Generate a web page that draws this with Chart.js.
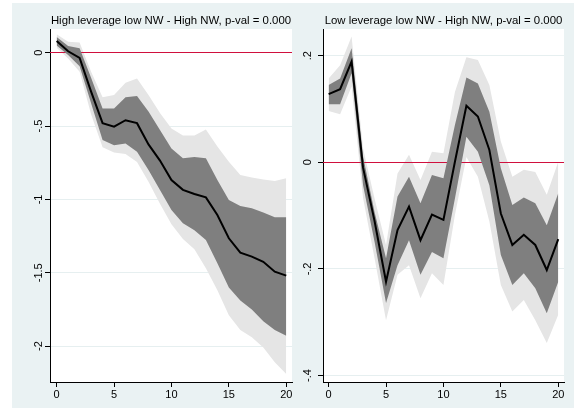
<!DOCTYPE html>
<html>
<head>
<meta charset="utf-8">
<script src="https://cdn.jsdelivr.net/npm/chart.js@4.4.1/dist/chart.umd.min.js"></script>
<style>
html, body { margin: 0; padding: 0; background: #fff; }
#bg { position: absolute; left: 12px; top: 3px; width: 562px; height: 405px; background: #eaf2f3; }
#wrapL { position: absolute; left: 0; top: 0; }
#wrapR { position: absolute; left: 293px; top: 0; }
canvas { display: block; }
</style>
</head>
<body>
<div id="bg"></div>
<div id="wrapL"><canvas id="leftChart" width="300" height="408"></canvas></div>
<div id="wrapR"><canvas id="rightChart" width="281" height="408"></canvas></div>
<script>
/* =====================
   データ
===================== */
const horizons = [0, 1, 2, 3, 4, 5, 6, 7, 8, 9, 10, 11, 12, 13, 14, 15, 16, 17, 18, 19, 20];
const xTicks = [0, 5, 10, 15, 20];

// 左: High leverage low NW - High NW
const leftTitle = 'High leverage low NW - High NW, p-val = 0.000';
const leftMain    = [0.08, 0.01, -0.035, -0.265, -0.48, -0.504, -0.46, -0.48, -0.625, -0.735, -0.868, -0.935, -0.963, -0.986, -1.106, -1.265, -1.363, -1.39, -1.425, -1.493, -1.52];
const leftInnerHi = [0.108, 0.046, 0.03, -0.17, -0.38, -0.38, -0.304, -0.295, -0.40, -0.527, -0.652, -0.72, -0.71, -0.72, -0.868, -1.004, -1.045, -1.06, -1.09, -1.122, -1.122];
const leftInnerLo = [0.05, -0.016, -0.092, -0.345, -0.595, -0.63, -0.618, -0.675, -0.80, -0.936, -1.072, -1.163, -1.21, -1.276, -1.436, -1.6, -1.69, -1.75, -1.83, -1.89, -1.93];
const leftOuterHi = [0.126, 0.075, 0.07, -0.13, -0.304, -0.288, -0.204, -0.175, -0.288, -0.41, -0.516, -0.565, -0.565, -0.523, -0.64, -0.743, -0.834, -0.85, -0.864, -0.875, -0.856];
const leftOuterLo = [0.035, -0.04, -0.13, -0.42, -0.645, -0.68, -0.69, -0.745, -0.88, -1.03, -1.17, -1.27, -1.34, -1.47, -1.62, -1.79, -1.89, -1.94, -2.01, -2.11, -2.19];
const leftYTicks  = [0, -0.5, -1, -1.5, -2];
const leftYLabels = ['0', '-.5', '-1', '-1.5', '-2'];

// 右: Low leverage low NW - High NW
const rightTitle = 'Low leverage low NW - High NW, p-val = 0.000';
const rightMain    = [0.128, 0.137, 0.189, -0.01, -0.11, -0.224, -0.127, -0.083, -0.146, -0.098, -0.108, 0.001, 0.106, 0.086, 0.023, -0.096, -0.155, -0.136, -0.155, -0.202, -0.144];
const rightInnerHi = [0.145, 0.157, 0.214, 0.011, -0.093, -0.18, -0.064, -0.027, -0.077, -0.024, -0.03, 0.07, 0.159, 0.148, 0.095, -0.011, -0.08, -0.066, -0.077, -0.118, -0.058];
const rightInnerLo = [0.109, 0.109, 0.167, -0.043, -0.149, -0.264, -0.193, -0.146, -0.211, -0.168, -0.18, -0.068, 0.048, 0.02, -0.043, -0.174, -0.23, -0.208, -0.236, -0.283, -0.224];
const rightOuterHi = [0.157, 0.182, 0.236, 0.026, -0.068, -0.155, -0.021, 0.014, -0.033, 0.02, 0.017, 0.132, 0.197, 0.192, 0.145, 0.039, -0.027, -0.014, -0.018, -0.061, 0.001];
const rightOuterLo = [0.096, 0.09, 0.142, -0.067, -0.18, -0.296, -0.211, -0.193, -0.255, -0.208, -0.23, -0.099, 0.01, -0.027, -0.111, -0.23, -0.28, -0.258, -0.296, -0.339, -0.286];
const rightYTicks  = [0.2, 0, -0.2, -0.4];
const rightYLabels = ['.2', '0', '-.2', '-.4'];

const FONT = "'Liberation Sans', Arial, sans-serif";

function toPoints(arr) {
    return horizons.map((h, i) => ({ x: h, y: arr[i] }));
}

/* =====================
   プラグイン: 白いプロット領域, 0 の赤線, 縦書き y ラベル, タイトル
===================== */
const stataPlugin = {
    id: 'stataLook',
    beforeDraw(chart) {
        const a = chart.chartArea;
        const ctx = chart.ctx;
        ctx.save();
        ctx.fillStyle = '#ffffff';
        ctx.fillRect(a.left, a.top, a.right - a.left, a.bottom - a.top);
        ctx.restore();
    },
    afterDatasetDraw(chart, args) {
        // 外側の帯の後, 内側の帯の前に 0 線を描く
        if (args.index !== 1) return;
        const a = chart.chartArea;
        const y = Math.round(chart.scales.y.getPixelForValue(0) - 0.5) + 0.5;
        const ctx = chart.ctx;
        ctx.save();
        ctx.strokeStyle = '#d0103e';
        ctx.lineWidth = 1.2;
        ctx.beginPath();
        ctx.moveTo(a.left, y);
        ctx.lineTo(a.right, y);
        ctx.stroke();
        ctx.restore();
    },
    afterDraw(chart, args, opts) {
        const ctx = chart.ctx;
        const a = chart.chartArea;
        const ys = chart.scales.y;
        ctx.save();
        ctx.fillStyle = '#000';
        ctx.font = '11px ' + FONT;
        ctx.textAlign = 'center';
        ctx.textBaseline = 'middle';
        opts.yTicks.forEach((v, i) => {
            const py = ys.getPixelForValue(v);
            ctx.save();
            ctx.translate(opts.labelX, py);
            ctx.rotate(-Math.PI / 2);
            ctx.fillText(opts.yLabels[i], 0, 0);
            ctx.restore();
        });
        ctx.font = '11.4px ' + FONT;
        ctx.fillText(opts.title, (a.left + a.right) / 2, 20.5);
        ctx.restore();
    }
};

function makePanel(canvasId, cfg) {
    const el = document.getElementById(canvasId);
    if (!el) return null;
    const datasets = [
        { data: toPoints(cfg.outerHi), fill: '+1', backgroundColor: '#e5e5e5', borderColor: 'transparent', borderWidth: 0, order: 5 },
        { data: toPoints(cfg.outerLo), fill: false, borderColor: 'transparent', borderWidth: 0, order: 4 },
        { data: toPoints(cfg.innerHi), fill: '+1', backgroundColor: '#7f7f7f', borderColor: 'transparent', borderWidth: 0, order: 3 },
        { data: toPoints(cfg.innerLo), fill: false, borderColor: 'transparent', borderWidth: 0, order: 2 },
        { data: toPoints(cfg.main), fill: false, borderColor: '#000', borderWidth: 2, order: 1 }
    ];
    return new Chart(el, {
        type: 'line',
        data: { datasets },
        plugins: [stataPlugin],
        options: {
            responsive: false,
            animation: false,
            events: [],
            layout: { padding: cfg.padding },
            elements: { point: { radius: 0 }, line: { tension: 0 } },
            plugins: {
                legend: { display: false },
                tooltip: { enabled: false },
                stataLook: { title: cfg.title, yTicks: cfg.yTicks, yLabels: cfg.yLabels, labelX: cfg.labelX }
            },
            scales: {
                x: {
                    type: 'linear',
                    min: cfg.xMin,
                    max: 20.5,
                    afterBuildTicks: s => { s.ticks = xTicks.map(v => ({ value: v })); },
                    afterFit: s => { s.height = 26; },
                    grid: { drawOnChartArea: false, drawTicks: true, tickLength: 5, tickColor: '#000' },
                    border: { display: true, color: '#000', width: 1 },
                    ticks: { color: '#000', padding: 1, maxRotation: 0, font: { family: FONT, size: 11 } }
                },
                y: {
                    type: 'linear',
                    min: cfg.yMin,
                    max: cfg.yMax,
                    afterBuildTicks: s => { s.ticks = cfg.yTicks.map(v => ({ value: v })); },
                    afterFit: s => { s.width = cfg.yWidth; },
                    grid: {
                        // 0 の位置は赤線が引かれるのでグリッドは描かない
                        color: c => (c.tick && c.tick.value === 0) ? 'rgba(0,0,0,0)' : '#e6eff0',
                        lineWidth: 1, drawTicks: true, tickLength: 5, tickColor: '#000'
                    },
                    border: { display: true, color: '#000', width: 1 },
                    ticks: { display: false }
                }
            }
        }
    });
}

makePanel('leftChart', {
    title: leftTitle,
    main: leftMain, innerHi: leftInnerHi, innerLo: leftInnerLo, outerHi: leftOuterHi, outerLo: leftOuterLo,
    yTicks: leftYTicks, yLabels: leftYLabels,
    yMin: -2.245, yMax: 0.162, xMin: -0.58,
    yWidth: 40, labelX: 38.5,
    padding: { left: 10, right: 8, top: 29, bottom: 0 }
});

makePanel('rightChart', {
    title: rightTitle,
    main: rightMain, innerHi: rightInnerHi, innerLo: rightInnerLo, outerHi: rightOuterHi, outerLo: rightOuterLo,
    yTicks: rightYTicks, yLabels: rightYLabels,
    yMin: -0.412, yMax: 0.25, xMin: -0.49,
    yWidth: 30, labelX: 15,
    padding: { left: 0, right: 10, top: 29, bottom: 0 }
});
</script>
</body>
</html>
